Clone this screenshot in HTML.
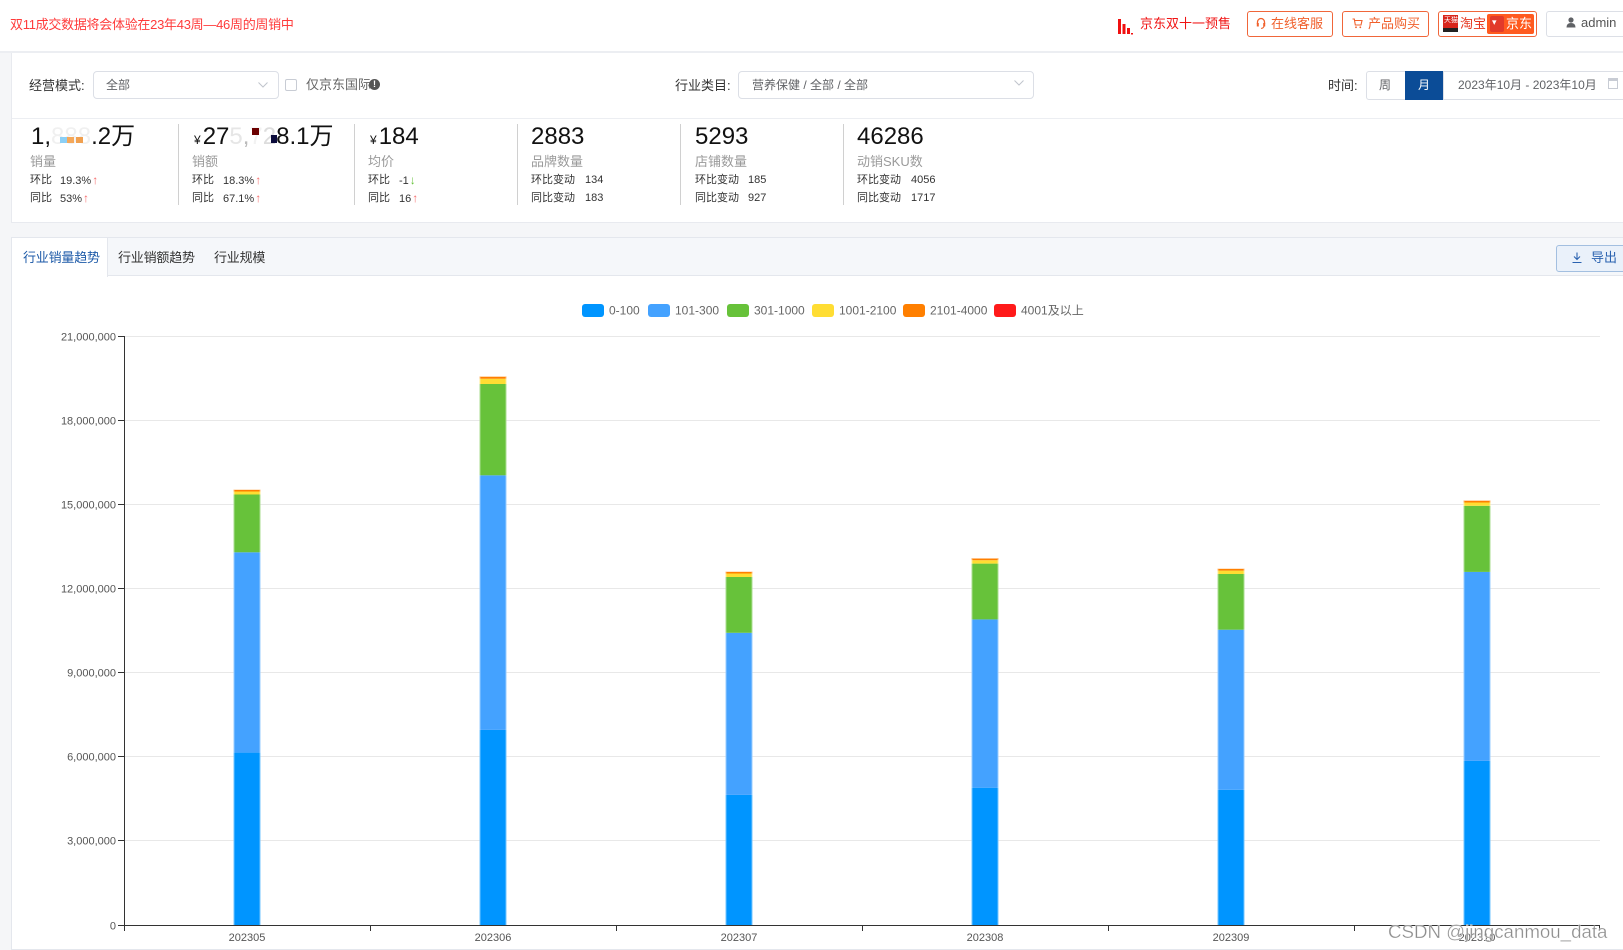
<!DOCTYPE html>
<html><head><meta charset="utf-8">
<style>
*{margin:0;padding:0;box-sizing:border-box}
body{width:1623px;height:950px;overflow:hidden;background:#f5f6f8;font-family:"Liberation Sans","Noto Sans CJK SC",sans-serif;position:relative;color:#333}
.a{position:absolute;white-space:nowrap}
.btn{position:absolute;top:11px;height:26px;border:1px solid #f0663a;border-radius:3px;background:#fff}
.bt{position:absolute;top:15px;font-size:13px;line-height:18px;color:#f0602c;white-space:nowrap}
.big{position:absolute;top:125px;font-size:24px;line-height:24px;color:#111;white-space:nowrap}
.lab{position:absolute;top:153px;font-size:13px;line-height:17px;color:#9a9a9a;white-space:nowrap}
.r1{position:absolute;top:173px;font-size:11px;line-height:14px;color:#333;white-space:nowrap}
.r2{position:absolute;top:191px;font-size:11px;line-height:14px;color:#333;white-space:nowrap}
.up{color:#f56c6c;font-size:12px;margin-left:1px}
.dn{color:#67c23a;font-size:12px;margin-left:1px}
.vd{position:absolute;top:124px;width:1px;height:81px;background:#d0d0d0}
</style></head><body>

<!-- header -->
<div class="a" style="left:0;top:0;width:1623px;height:53px;background:#fff;border-bottom:2px solid #eceef2"></div>
<div class="a" style="left:10px;top:16px;font-size:13px;line-height:18px;color:#ff3b3b;letter-spacing:-0.28px">双11成交数据将会体验在23年43周—46周的周销中</div>

<svg class="a" style="left:1118px;top:17px" width="15" height="18" viewBox="0 0 15 18">
<rect x="0" y="2" width="3" height="15" fill="#f01010"/><rect x="4.5" y="7" width="3" height="10" fill="#f01010"/><rect x="9" y="11" width="3" height="6" fill="#f01010"/><rect x="13" y="16" width="2" height="1.5" fill="#f01010"/></svg>
<div class="a" style="left:1140px;top:15px;font-size:13px;line-height:18px;color:#f01414">京东双十一预售</div>

<div class="btn" style="left:1247px;width:86px"></div>
<svg class="a" style="left:1256px;top:17px" width="10" height="12" viewBox="0 0 10 12"><path d="M1.5 7 V5 A3.5 3.5 0 0 1 8.5 5 V7" fill="none" stroke="#f0602c" stroke-width="1.3"/><rect x="0.8" y="6" width="2" height="3.5" fill="#f0602c"/><rect x="7.2" y="6" width="2" height="3.5" fill="#f0602c"/><path d="M8 9.5 Q7 11.5 5 11.3" fill="none" stroke="#f0602c" stroke-width="1"/></svg>
<div class="bt" style="left:1271px">在线客服</div>

<div class="btn" style="left:1342px;width:87px"></div>
<svg class="a" style="left:1352px;top:18px" width="11" height="11" viewBox="0 0 11 11"><path d="M0.5 1 H2.3 L3.3 7 H9 L10 2.5 H2.8" fill="none" stroke="#f0602c" stroke-width="1.1"/><circle cx="4" cy="9.3" r="0.9" fill="#f0602c"/><circle cx="8.3" cy="9.3" r="0.9" fill="#f0602c"/></svg>
<div class="bt" style="left:1368px">产品购买</div>

<div class="btn" style="left:1438px;width:99px"></div>
<div class="a" style="left:1443px;top:15px;width:15px;height:17px;background:#d8261c"></div>
<div class="a" style="left:1443px;top:28px;width:15px;height:4px;background:#222"></div>
<div class="a" style="left:1444px;top:17px;font-size:7px;line-height:8px;color:#fff">天猫</div>
<div class="bt" style="left:1460px;color:#e5331c">淘宝</div>
<div class="a" style="left:1487px;top:14px;width:47px;height:20px;background:#ff5a1f;border-radius:2px"></div>
<div class="a" style="left:1490px;top:16px;width:14px;height:16px;background:#e23a2a;border-radius:2px"></div>
<div class="a" style="left:1492px;top:17px;font-size:9px;line-height:10px;color:#fff">▾</div>
<div class="a" style="left:1506px;top:15px;font-size:13px;line-height:18px;color:#fff">京东</div>

<div class="a" style="left:1546px;top:11px;width:90px;height:26px;border:1px solid #dcdfe6;border-radius:3px;background:#fff"></div>
<svg class="a" style="left:1566px;top:17px" width="10" height="11" viewBox="0 0 10 11"><circle cx="5" cy="3" r="2.6" fill="#606266"/><path d="M0.5 10.5 Q0.5 6 5 6 Q9.5 6 9.5 10.5 Z" fill="#606266"/></svg>
<div class="a" style="left:1581px;top:14px;font-size:13px;line-height:18px;color:#555">admin</div>

<!-- card 1 -->
<div class="a" style="left:11px;top:53px;width:1620px;height:170px;background:#fff;border-left:1px solid #e8eaef;border-bottom:1px solid #e8eaef"></div>
<div class="a" style="left:12px;top:118px;width:1611px;height:1px;background:#eceef2"></div>

<div class="a" style="left:29px;top:77px;font-size:13px;line-height:18px;color:#333">经营模式:</div>
<div class="a" style="left:93px;top:71px;width:186px;height:28px;border:1px solid #dcdfe6;border-radius:4px;background:#fff"></div>
<div class="a" style="left:106px;top:77px;font-size:12px;line-height:17px;color:#606266">全部</div>
<svg class="a" style="left:258px;top:82px" width="10" height="6" viewBox="0 0 10 6"><path d="M0.5 0.5 L5 5 L9.5 0.5" fill="none" stroke="#c0c4cc" stroke-width="1"/></svg>
<div class="a" style="left:285px;top:79px;width:12px;height:12px;border:1px solid #c8ccd4;border-radius:2px;background:#fff"></div>
<div class="a" style="left:306px;top:76px;font-size:13px;line-height:18px;color:#666">仅京东国际</div>
<div class="a" style="left:369px;top:79px;width:11px;height:11px;border-radius:50%;background:#555;color:#fff;font-size:9px;line-height:11px;text-align:center;font-weight:bold">!</div>

<div class="a" style="left:675px;top:77px;font-size:13px;line-height:18px;color:#333">行业类目:</div>
<div class="a" style="left:738px;top:71px;width:296px;height:28px;border:1px solid #dcdfe6;border-radius:4px;background:#fff"></div>
<div class="a" style="left:752px;top:77px;font-size:12px;line-height:17px;color:#606266">营养保健 / 全部 / 全部</div>
<svg class="a" style="left:1014px;top:80px" width="10" height="6" viewBox="0 0 10 6"><path d="M0.5 0.5 L5 5 L9.5 0.5" fill="none" stroke="#c0c4cc" stroke-width="1"/></svg>

<div class="a" style="left:1328px;top:77px;font-size:13px;line-height:18px;color:#333">时间:</div>
<div class="a" style="left:1366px;top:71px;width:40px;height:29px;border:1px solid #dcdfe6;border-radius:3px 0 0 3px;background:#fff"></div>
<div class="a" style="left:1379px;top:77px;font-size:12px;line-height:17px;color:#606266">周</div>
<div class="a" style="left:1405px;top:71px;width:39px;height:29px;background:#0b4c97"></div>
<div class="a" style="left:1418px;top:77px;font-size:12px;line-height:17px;color:#fff">月</div>
<div class="a" style="left:1443px;top:71px;width:190px;height:29px;border:1px solid #dcdfe6;background:#fff"></div>
<div class="a" style="left:1458px;top:77px;font-size:12px;line-height:17px;color:#606266">2023年10月 - 2023年10月</div>
<div class="a" style="left:1608px;top:78px;width:10px;height:11px;border:1px solid #c8ccd4;border-top:3px solid #c8ccd4"></div>

<!-- KPI row -->
<div class="big" style="left:31px">1,<span style="color:#f0f0f0">888</span>.2万</div>
<div class="a" style="left:60px;top:137px;width:7px;height:6px;background:#8ccff5"></div>
<div class="a" style="left:67px;top:137px;width:7px;height:6px;background:#f5a85a"></div>
<div class="a" style="left:76px;top:137px;width:7px;height:6px;background:#f0a050"></div>
<div class="lab" style="left:30px">销量</div>
<div class="r1" style="left:30px">环比</div><div class="r1" style="left:60px">19.3%<span class="up">↑</span></div>
<div class="r2" style="left:30px">同比</div><div class="r2" style="left:60px">53%<span class="up">↑</span></div>
<div class="vd" style="left:178px"></div>

<div class="big" style="left:194px"><span style="font-size:12px;margin-right:2px">¥</span>27<span style="color:#e6e6e6">5</span><span style="color:#bbb">,</span><span style="color:#f2f2f2">7</span><span style="color:#ddd">2</span>8.1万</div>
<div class="a" style="left:252px;top:128px;width:7px;height:7px;background:#6b0000"></div>
<div class="a" style="left:271px;top:135px;width:6px;height:8px;background:#0b0b3b"></div>
<div class="lab" style="left:192px">销额</div>
<div class="r1" style="left:192px">环比</div><div class="r1" style="left:223px">18.3%<span class="up">↑</span></div>
<div class="r2" style="left:192px">同比</div><div class="r2" style="left:223px">67.1%<span class="up">↑</span></div>
<div class="vd" style="left:354px"></div>

<div class="big" style="left:370px"><span style="font-size:12px;margin-right:2px">¥</span>184</div>
<div class="lab" style="left:368px">均价</div>
<div class="r1" style="left:368px">环比</div><div class="r1" style="left:399px">-1<span class="dn">↓</span></div>
<div class="r2" style="left:368px">同比</div><div class="r2" style="left:399px">16<span class="up">↑</span></div>
<div class="vd" style="left:517px"></div>

<div class="big" style="left:531px">2883</div>
<div class="lab" style="left:531px">品牌数量</div>
<div class="r1" style="left:531px">环比变动</div><div class="r1" style="left:585px">134</div>
<div class="r2" style="left:531px">同比变动</div><div class="r2" style="left:585px">183</div>
<div class="vd" style="left:680px"></div>

<div class="big" style="left:695px">5293</div>
<div class="lab" style="left:695px">店铺数量</div>
<div class="r1" style="left:695px">环比变动</div><div class="r1" style="left:748px">185</div>
<div class="r2" style="left:695px">同比变动</div><div class="r2" style="left:748px">927</div>
<div class="vd" style="left:843px"></div>

<div class="big" style="left:857px">46286</div>
<div class="lab" style="left:857px">动销SKU数</div>
<div class="r1" style="left:857px">环比变动</div><div class="r1" style="left:911px">4056</div>
<div class="r2" style="left:857px">同比变动</div><div class="r2" style="left:911px">1717</div>

<!-- card 2 tabs -->
<div class="a" style="left:11px;top:237px;width:1620px;height:713px;background:#fff;border:1px solid #e4e7ed"></div>
<div class="a" style="left:12px;top:238px;width:1611px;height:38px;background:#f5f7fa;border-bottom:1px solid #e4e7ed"></div>
<div class="a" style="left:12px;top:238px;width:96px;height:39px;background:#fff;border-right:1px solid #e4e7ed"></div>
<div class="a" style="left:23px;top:249px;font-size:13px;line-height:18px;color:#1d5aa8;letter-spacing:-0.2px">行业销量趋势</div>
<div class="a" style="left:118px;top:249px;font-size:13px;line-height:18px;color:#333;letter-spacing:-0.2px">行业销额趋势</div>
<div class="a" style="left:214px;top:249px;font-size:13px;line-height:18px;color:#333;letter-spacing:-0.2px">行业规模</div>
<div class="a" style="left:1556px;top:245px;width:80px;height:27px;background:#eaf1fa;border:1px solid #a3bfe0;border-radius:3px"></div>
<svg class="a" style="left:1572px;top:252px" width="10" height="12" viewBox="0 0 10 12"><path d="M5 0.5 V7 M2 4.5 L5 7.5 L8 4.5 M0.5 10.5 H9.5" fill="none" stroke="#2a62b0" stroke-width="1.1"/></svg>
<div class="a" style="left:1591px;top:249px;font-size:13px;line-height:18px;color:#2a62b0">导出</div>

<!-- chart -->
<svg class="a" style="left:0;top:0" width="1623" height="950" viewBox="0 0 1623 950" font-family="Liberation Sans, sans-serif">
<!-- legend -->
<g font-size="12" fill="#666">
<rect x="582" y="304" width="22" height="13" rx="3" fill="#0095ff"/><text x="609" y="314.5">0-100</text>
<rect x="648" y="304" width="22" height="13" rx="3" fill="#44a2ff"/><text x="675" y="314.5">101-300</text>
<rect x="727" y="304" width="22" height="13" rx="3" fill="#67c23a"/><text x="754" y="314.5">301-1000</text>
<rect x="812" y="304" width="22" height="13" rx="3" fill="#ffdd33"/><text x="839" y="314.5">1001-2100</text>
<rect x="903" y="304" width="22" height="13" rx="3" fill="#ff7f00"/><text x="930" y="314.5">2101-4000</text>
<rect x="994" y="304" width="22" height="13" rx="3" fill="#ff1a1a"/><text x="1021" y="314.5" font-family="Liberation Sans, Noto Sans CJK SC, sans-serif">4001及以上</text>
</g>
<!-- grid -->
<g stroke="#e8e8e8" stroke-width="1">
<line x1="124" y1="336.5" x2="1600" y2="336.5"/>
<line x1="124" y1="420.5" x2="1600" y2="420.5"/>
<line x1="124" y1="504.5" x2="1600" y2="504.5"/>
<line x1="124" y1="588.5" x2="1600" y2="588.5"/>
<line x1="124" y1="672.5" x2="1600" y2="672.5"/>
<line x1="124" y1="756.5" x2="1600" y2="756.5"/>
<line x1="124" y1="840.5" x2="1600" y2="840.5"/>
</g>
<!-- y axis -->
<g stroke="#333" stroke-width="1">
<line x1="124.5" y1="336" x2="124.5" y2="925"/>
<line x1="118" y1="336.5" x2="124" y2="336.5"/>
<line x1="118" y1="420.5" x2="124" y2="420.5"/>
<line x1="118" y1="504.5" x2="124" y2="504.5"/>
<line x1="118" y1="588.5" x2="124" y2="588.5"/>
<line x1="118" y1="672.5" x2="124" y2="672.5"/>
<line x1="118" y1="756.5" x2="124" y2="756.5"/>
<line x1="118" y1="840.5" x2="124" y2="840.5"/>
<line x1="118" y1="925.5" x2="124" y2="925.5"/>
</g>
<g font-size="11" fill="#555" text-anchor="end">
<text x="116" y="340.5">21,000,000</text>
<text x="116" y="424.5">18,000,000</text>
<text x="116" y="508.5">15,000,000</text>
<text x="116" y="592.5">12,000,000</text>
<text x="116" y="676.5">9,000,000</text>
<text x="116" y="760.5">6,000,000</text>
<text x="116" y="844.5">3,000,000</text>
<text x="116" y="929.5">0</text>
</g>
<!-- bars -->
<g>
<rect x="233.5" y="752.6" width="27" height="172.4" fill="#0095ff"/>
<rect x="233.5" y="552.3" width="27" height="200.3" fill="#44a2ff"/>
<rect x="233.5" y="494.5" width="27" height="57.8" fill="#67c23a"/>
<rect x="233.5" y="491.5" width="27" height="3" fill="#ffdd33"/>
<rect x="233.5" y="489.8" width="27" height="1.7" fill="#ff7f00"/>

<rect x="479.5" y="729.9" width="27" height="195.1" fill="#0095ff"/>
<rect x="479.5" y="475.3" width="27" height="254.6" fill="#44a2ff"/>
<rect x="479.5" y="384" width="27" height="91.3" fill="#67c23a"/>
<rect x="479.5" y="378.7" width="27" height="5.3" fill="#ffdd33"/>
<rect x="479.5" y="376.7" width="27" height="2" fill="#ff7f00"/>

<rect x="725.5" y="794.9" width="27" height="130.1" fill="#0095ff"/>
<rect x="725.5" y="632.8" width="27" height="162.1" fill="#44a2ff"/>
<rect x="725.5" y="577" width="27" height="55.8" fill="#67c23a"/>
<rect x="725.5" y="573.5" width="27" height="3.5" fill="#ffdd33"/>
<rect x="725.5" y="571.8" width="27" height="1.7" fill="#ff7f00"/>

<rect x="971.5" y="787.7" width="27" height="137.3" fill="#0095ff"/>
<rect x="971.5" y="619.4" width="27" height="168.3" fill="#44a2ff"/>
<rect x="971.5" y="563.6" width="27" height="55.8" fill="#67c23a"/>
<rect x="971.5" y="560.2" width="27" height="3.4" fill="#ffdd33"/>
<rect x="971.5" y="558.5" width="27" height="1.7" fill="#ff7f00"/>

<rect x="1217.5" y="789.8" width="27" height="135.2" fill="#0095ff"/>
<rect x="1217.5" y="629.7" width="27" height="160.1" fill="#44a2ff"/>
<rect x="1217.5" y="574" width="27" height="55.7" fill="#67c23a"/>
<rect x="1217.5" y="570.6" width="27" height="3.4" fill="#ffdd33"/>
<rect x="1217.5" y="568.8" width="27" height="1.8" fill="#ff7f00"/>

<rect x="1463.5" y="760.9" width="27" height="164.1" fill="#0095ff"/>
<rect x="1463.5" y="571.9" width="27" height="189" fill="#44a2ff"/>
<rect x="1463.5" y="505.8" width="27" height="66.1" fill="#67c23a"/>
<rect x="1463.5" y="502.5" width="27" height="3.3" fill="#ffdd33"/>
<rect x="1463.5" y="500.7" width="27" height="1.8" fill="#ff7f00"/>
</g>
<g stroke="#fff" stroke-opacity="0.45" stroke-width="1">
<line x1="234" y1="490" x2="234" y2="925"/><line x1="260" y1="490" x2="260" y2="925"/>
<line x1="480" y1="377" x2="480" y2="925"/><line x1="506" y1="377" x2="506" y2="925"/>
<line x1="726" y1="572" x2="726" y2="925"/><line x1="752" y1="572" x2="752" y2="925"/>
<line x1="972" y1="559" x2="972" y2="925"/><line x1="998" y1="559" x2="998" y2="925"/>
<line x1="1218" y1="569" x2="1218" y2="925"/><line x1="1244" y1="569" x2="1244" y2="925"/>
<line x1="1464" y1="501" x2="1464" y2="925"/><line x1="1490" y1="501" x2="1490" y2="925"/>
</g>
<!-- x axis -->
<g stroke="#333" stroke-width="1">
<line x1="124" y1="925.5" x2="1600" y2="925.5"/>
<line x1="124.5" y1="925" x2="124.5" y2="931"/>
<line x1="370.5" y1="925" x2="370.5" y2="931"/>
<line x1="616.5" y1="925" x2="616.5" y2="931"/>
<line x1="862.5" y1="925" x2="862.5" y2="931"/>
<line x1="1108.5" y1="925" x2="1108.5" y2="931"/>
<line x1="1354.5" y1="925" x2="1354.5" y2="931"/>
<line x1="1599.5" y1="925" x2="1599.5" y2="931"/>
</g>
<g font-size="11" fill="#555" text-anchor="middle">
<text x="247" y="941">202305</text>
<text x="493" y="941">202306</text>
<text x="739" y="941">202307</text>
<text x="985" y="941">202308</text>
<text x="1231" y="941">202309</text>
<text x="1477" y="941">202310</text>
</g>
<text x="1388" y="938" font-size="18.7" fill="#8a8a8a" stroke="#fff" stroke-width="0.6" stroke-opacity="0.6">CSDN @jingcanmou_data</text>
</svg>
</body></html>
